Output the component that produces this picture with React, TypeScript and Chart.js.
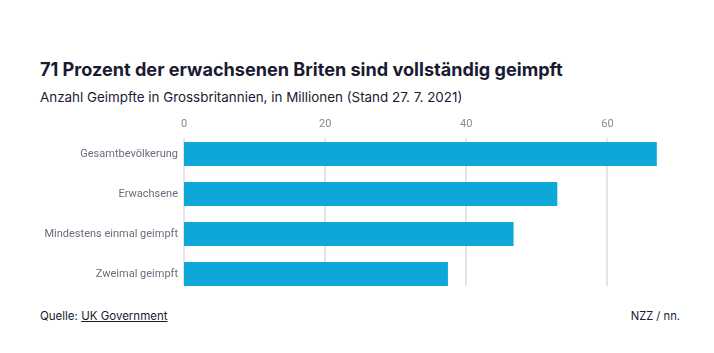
import React, { useEffect, useRef } from "react";
import { Chart, registerables } from "chart.js";

Chart.register(...registerables);

const categories = ["Gesamtbevölkerung", "Erwachsene", "Mindestens einmal geimpft", "Zweimal geimpft"];
const values = [67.0, 52.9, 46.7, 37.4];
const tickValues = [0, 20, 40, 60];

const FONT = "Roboto, 'Noto Sans', sans-serif";
const HFONT = "Inter, Roboto, sans-serif";

const gridPlugin = {
  id: "customGrid",
  beforeDatasetsDraw(chart: any) {
    const { ctx, chartArea, scales } = chart;
    const x = scales.x;
    ctx.save();
    ctx.strokeStyle = "#e4e4ea";
    ctx.lineWidth = 2;
    for (const v of tickValues) {
      const px = Math.round(x.getPixelForValue(v));
      ctx.beginPath();
      ctx.moveTo(px, chartArea.top + 4);
      ctx.lineTo(px, chartArea.bottom - 8);
      ctx.stroke();
    }
    ctx.restore();
  },
};

export default function App() {
  const ref = useRef<HTMLCanvasElement>(null);
  useEffect(() => {
    if (!ref.current) return;
    const chart = new Chart(ref.current, {
      type: "bar",
      data: {
        labels: categories,
        datasets: [
          {
            data: values,
            backgroundColor: "#0da8d8",
            barPercentage: 0.6,
            categoryPercentage: 1,
          },
        ],
      },
      options: {
        indexAxis: "y",
        animation: false,
        responsive: false,
        maintainAspectRatio: false,
        layout: { padding: { left: 0, right: 36, top: 0, bottom: 0 } },
        plugins: { legend: { display: false }, tooltip: { enabled: false } },
        scales: {
          x: {
            position: "top",
            min: 0,
            max: 70,
            afterBuildTicks: (s: any) => {
              s.ticks = tickValues.map((v) => ({ value: v }));
            },
            afterFit: (s: any) => {
              s.height = 24;
              s.paddingLeft = 0;
              s.paddingRight = 0;
            },
            grid: { display: false, drawTicks: false },
            border: { display: false },
            ticks: {
              padding: 3,
              color: "#8a8a94",
              font: { family: FONT, size: 11 },
            },
          },
          y: {
            afterFit: (s: any) => {
              s.width = 184;
              s.paddingTop = 0;
              s.paddingBottom = 0;
            },
            grid: { display: false, drawTicks: false },
            border: { display: false },
            ticks: {
              padding: 6,
              color: "#6b6b7b",
              font: { family: FONT, size: 11 },
            },
          },
        },
      },
      plugins: [gridPlugin],
    });
    return () => chart.destroy();
  }, []);

  return (
    <div style={{ position: "relative", width: 714, height: 345, fontFamily: FONT, margin: -8 }}>
      <div
        style={{
          position: "absolute",
          left: 40,
          top: 57.5,
          fontSize: 18.1,
          fontWeight: 700,
          color: "#1a1a33",
          whiteSpace: "nowrap",
          fontFamily: HFONT,
        }}
      >
        71 Prozent der erwachsenen Briten sind vollständig geimpft
      </div>
      <div
        style={{
          position: "absolute",
          left: 40,
          top: 89,
          fontSize: 13.4,
          color: "#1a1a33",
          whiteSpace: "nowrap",
          fontFamily: HFONT,
        }}
      >
        Anzahl Geimpfte in Grossbritannien, in Millionen (Stand 27. 7. 2021)
      </div>
      <canvas
        ref={ref}
        width={714}
        height={184}
        style={{ position: "absolute", left: 0, top: 110, width: 714, height: 184 }}
      />
      <div
        style={{
          position: "absolute",
          left: 40,
          top: 309,
          fontSize: 11.5,
          color: "#1a1a33",
          whiteSpace: "nowrap",
          fontFamily: HFONT,
        }}
      >
        Quelle: <span style={{ textDecoration: "underline" }}>UK Government</span>
      </div>
      <div
        style={{
          position: "absolute",
          right: 34,
          top: 309,
          fontSize: 11.2,
          color: "#1a1a33",
          whiteSpace: "nowrap",
          fontFamily: HFONT,
        }}
      >
        NZZ / nn.
      </div>
    </div>
  );
}
